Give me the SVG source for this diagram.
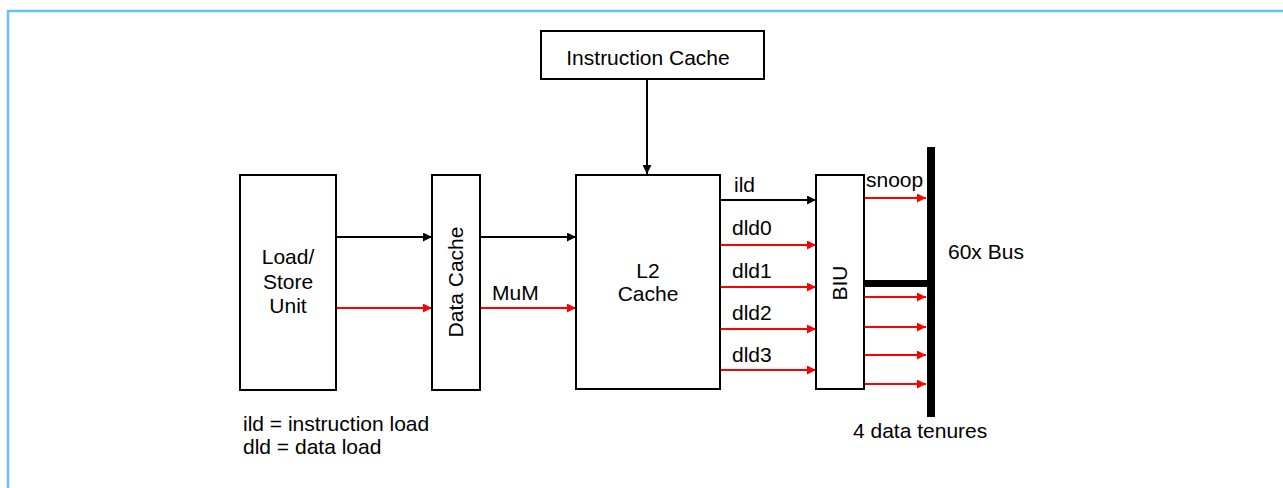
<svg xmlns="http://www.w3.org/2000/svg" width="1283" height="488" viewBox="0 0 1283 488">
<defs>
<marker id="ab" viewBox="0 0 10 10" refX="10" refY="5" markerWidth="10" markerHeight="9" markerUnits="userSpaceOnUse" orient="auto"><path d="M0,0 L10,5 L0,10 z" fill="#000"/></marker>
<marker id="ar" viewBox="0 0 10 10" refX="10" refY="5" markerWidth="10" markerHeight="9" markerUnits="userSpaceOnUse" orient="auto"><path d="M0,0 L10,5 L0,10 z" fill="#f00"/></marker>
</defs>
<style>
text{font-family:"Liberation Sans",Arial,sans-serif;font-size:21px;fill:#000}
.box{fill:#fff;stroke:#000;stroke-width:2}
.k{stroke:#000;stroke-width:2;fill:none}
.r{stroke:#f00;stroke-width:2;fill:none}
.c{text-anchor:middle}
</style>
<rect x="8" y="11" width="1300" height="500" fill="#fff" stroke="#66c0ff" stroke-width="2.5"/>
<g id="connectors">
<line class="k" x1="647" y1="79" x2="647" y2="174" marker-end="url(#ab)"/>
<line class="k" x1="336" y1="237" x2="432" y2="237" marker-end="url(#ab)"/>
<line class="r" x1="336" y1="308" x2="432" y2="308" marker-end="url(#ar)"/>
<line class="k" x1="480" y1="237" x2="576" y2="237" marker-end="url(#ab)"/>
<line class="r" x1="480" y1="308" x2="576" y2="308" marker-end="url(#ar)"/>
<text x="492" y="300">MuM</text>
<line class="k" x1="720" y1="200" x2="816" y2="200" marker-end="url(#ab)"/>
<line class="r" x1="720" y1="245" x2="816" y2="245" marker-end="url(#ar)"/>
<line class="r" x1="720" y1="287" x2="816" y2="287" marker-end="url(#ar)"/>
<line class="r" x1="720" y1="329" x2="816" y2="329" marker-end="url(#ar)"/>
<line class="r" x1="720" y1="370" x2="816" y2="370" marker-end="url(#ar)"/>
<text x="734" y="192">ild</text>
<text x="732" y="235">dld0</text>
<text x="732" y="278">dld1</text>
<text x="732" y="320">dld2</text>
<text x="732" y="362">dld3</text>
<line class="r" x1="864" y1="198" x2="926" y2="198" marker-end="url(#ar)"/>
<line class="r" x1="864" y1="297" x2="926" y2="297" marker-end="url(#ar)"/>
<line class="r" x1="864" y1="327" x2="926" y2="327" marker-end="url(#ar)"/>
<line class="r" x1="864" y1="355" x2="926" y2="355" marker-end="url(#ar)"/>
<line class="r" x1="864" y1="384" x2="926" y2="384" marker-end="url(#ar)"/>
<text x="866" y="187">snoop</text>
<rect x="864" y="280" width="70" height="7" fill="#000"/>
</g>
<g id="instruction-cache">
<rect class="box" x="541" y="31" width="223" height="48"/>
<text class="c" x="648" y="65">Instruction Cache</text>
</g>
<g id="load-store-unit">
<rect class="box" x="240" y="175" width="96" height="215"/>
<text class="c" x="288" y="264">Load/</text>
<text class="c" x="288" y="289">Store</text>
<text class="c" x="288" y="313">Unit</text>
</g>
<g id="data-cache">
<rect class="box" x="432" y="175" width="48" height="215"/>
<text class="c" transform="translate(463,282) rotate(-90)">Data Cache</text>
</g>
<g id="l2-cache">
<rect class="box" x="576" y="175" width="144" height="214"/>
<text class="c" x="648" y="278">L2</text>
<text class="c" x="648" y="301">Cache</text>
</g>
<g id="biu">
<rect class="box" x="816" y="175" width="48" height="214"/>
<text class="c" transform="translate(847,283) rotate(-90)">BIU</text>
</g>
<g id="bus">
<rect x="927" y="147" width="8" height="270" fill="#000"/>
<text x="948" y="259">60x Bus</text>
<text x="853" y="438">4 data tenures</text>
</g>
<g id="legend">
<text x="243" y="431">ild = instruction load</text>
<text x="243" y="454">dld = data load</text>
</g>
</svg>
